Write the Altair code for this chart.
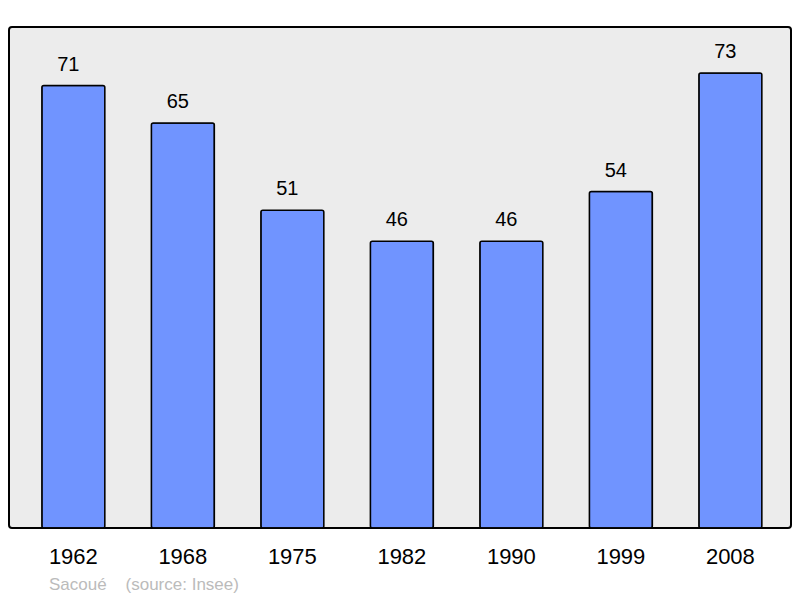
import altair as alt
import pandas as pd

years = ["1962", "1968", "1975", "1982", "1990", "1999", "2008"]
population = [71, 65, 51, 46, 46, 54, 73]
caption = "Sacoué\u00a0\u00a0\u00a0\u00a0(source: Insee)"

df = pd.DataFrame({"year": years, "pop": population})

x = alt.X("year:N", sort=years, title=None,
          scale=alt.Scale(paddingInner=0.4247, paddingOuter=0.283, align=0.53),
          axis=alt.Axis(labelAngle=0, ticks=False, domain=False, grid=False,
                        labelFontSize=22, labelColor="#000", labelFont="Liberation Sans",
                        labelPadding=18))
y = alt.Y("pop:Q", title=None, scale=alt.Scale(domain=[0, 80.4], nice=False, zero=True),
          axis=None)

bars = alt.Chart(df).mark_bar(color="#7094ff", stroke="#000", strokeWidth=1.5,
                              cornerRadius=2).encode(x=x, y=y)
labels = alt.Chart(df).mark_text(fontSize=20, font="Liberation Sans", color="#000",
                                 baseline="alphabetic", dy=-15, dx=-5).encode(
    x=alt.X("year:N", sort=years), y="pop:Q", text="pop:Q")

chart = (bars + labels).properties(
    width=782, height=501,
    autosize=alt.AutoSizeParams(type="none"),
    padding={"left": 1, "top": 19, "right": 1, "bottom": 72},
    background="white",
    title=alt.TitleParams(caption, orient="bottom", anchor="start", frame="group",
                          fontSize=17, font="Liberation Sans", fontWeight="normal",
                          color="#bbbbbb", dx=40, offset=10),
).configure_view(fill="#ececec", stroke="#000", strokeWidth=2, cornerRadius=3)

chart.save("out.html", embed_options={"renderer": "svg", "actions": False})
